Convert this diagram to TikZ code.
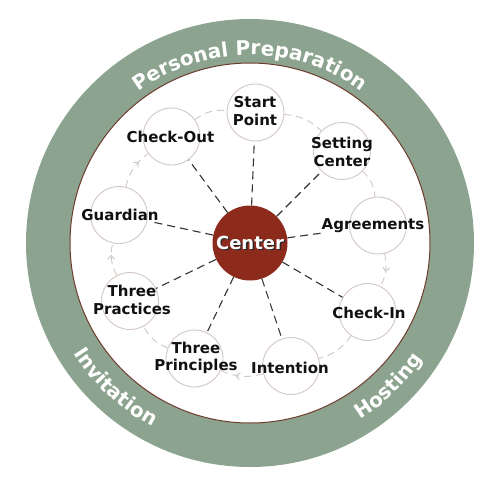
\documentclass[tikz,border=0pt]{standalone}
\usepackage{fontspec}
\setmainfont{DejaVu Sans}
\usetikzlibrary{decorations.text,decorations.markings,arrows.meta}
\definecolor{ringgreen}{HTML}{8CA48F}
\definecolor{rimbrown}{HTML}{6E3B2C}
\definecolor{centerred}{HTML}{8C2A1C}
\definecolor{nodeline}{HTML}{D3C7C2}
\definecolor{flowgray}{HTML}{CFC8C4}
\definecolor{spokegray}{HTML}{333333}
\definecolor{labelink}{HTML}{111111}
\newcommand{\lblfont}{\bfseries\fontsize{15}{17.5}\selectfont}
\newcommand{\ringfont}{\bfseries\fontsize{20}{24}\selectfont}
\newcommand{\ctrfont}{\bfseries\fontsize{18}{20}\selectfont}
\begin{document}
\begin{tikzpicture}[x=1pt,y=-1pt,
  stage/.style={circle, draw=nodeline, line width=0.9pt, fill=white, minimum size=57pt, inner sep=0pt},
  lbl/.style={align=center, inner sep=1pt, font=\lblfont, text=labelink},
  spoke/.style={draw=spokegray, line width=1.1pt, dash pattern=on 8pt off 5pt},
  flow/.style={draw=flowgray, line width=0.9pt, dash pattern=on 7pt off 5pt, bend left=20},
  flowarrow/.style={postaction={decorate, decoration={markings, mark=at position #1 with {\arrow[flowgray, solid, line width=0.9pt]{Straight Barb[length=4pt,width=7pt]}}}}}
]
\useasboundingbox (0,0) rectangle (500,485);
% rings
\path[fill=ringgreen] (250,243) circle[radius=224];
\draw[rimbrown, line width=1pt, fill=white] (250,243) circle[radius=180];
% ring texts
\begin{scope}[shift={(250,243)}, x=1pt, y=1pt]
\path[decorate, decoration={text along path, text align=center, text={|\ringfont\color{white}|Personal Preparation}}] (180:188) arc[start angle=180, end angle=0, radius=188];
\path[decorate, decoration={text along path, text align=center, text={|\ringfont\color{white}|Invitation}}] (-173:208) arc[start angle=-173, end angle=-93, radius=208];
\path[decorate, decoration={text along path, text align=center, text={|\ringfont\color{white}|Hosting}}] (-86:208) arc[start angle=-86, end angle=-6, radius=208];
\end{scope}
% stage circles
\node[stage] (nStart) at (255.5,112.5) {};
\node[stage] (nSet) at (342,151) {};
\node[stage] (nAgr) at (378,225.5) {};
\node[stage] (nIn) at (367.5,312) {};
\node[stage] (nInt) at (291,366) {};
\node[stage] (nPri) at (194.5,358.5) {};
\node[stage] (nPra) at (130,301) {};
\node[stage] (nGua) at (119,215) {};
\node[stage] (nOut) at (171.5,136.5) {};
% flow arcs
\draw[flow] (nStart) to (nSet);
\draw[flow] (nSet) to (nAgr);
\draw[flow, flowarrow=0.55] (nAgr) to (nIn);
\draw[flow] (nIn) to (nInt);
\draw[flow, flowarrow=0.65] (nInt) to (nPri);
\draw[flow] (nPri) to (nPra);
\draw[flow, flowarrow=0.65] (nPra) to (nGua);
\draw[flow, flowarrow=0.7] (nGua) to (nOut);
\draw[flow] (nOut) to (nStart);
% center
\node[circle, fill=centerred, minimum size=75pt, inner sep=0pt] (ctr) at (250,243) {};
% labels
\node[lbl] (tStart) at (255,111) {Start\\Point};
\node[lbl] (tSet) at (342,152) {Setting\\Center};
\node[lbl] (tAgr) at (373,226) {Agreements};
\node[lbl] (tIn) at (369,313) {Check-In};
\node[lbl] (tInt) at (290,368) {Intention};
\node[lbl] (tPri) at (196,358) {Three\\Principles};
\node[lbl] (tPra) at (132,300) {Three\\Practices};
\node[lbl] (tGua) at (120,215) {Guardian};
\node[lbl] (tOut) at (170.5,137) {Check-Out};
% spokes
\draw[spoke] (ctr) -- (nStart);
\draw[spoke] (ctr) -- (nSet);
\draw[spoke] (ctr) -- (tAgr);
\draw[spoke] (ctr) -- (nIn);
\draw[spoke] (ctr) -- (nInt);
\draw[spoke] (ctr) -- (nPri);
\draw[spoke] (ctr) -- (nPra);
\draw[spoke] (ctr) -- (tGua);
\draw[spoke] (ctr) -- (nOut);
% center text
\node[font=\ctrfont, text=black!85] (ctrShade) at (251.3,244.3) {Center};
\node[font=\ctrfont, text=white] (ctrText) at (250,243) {Center};
\end{tikzpicture}
\end{document}
